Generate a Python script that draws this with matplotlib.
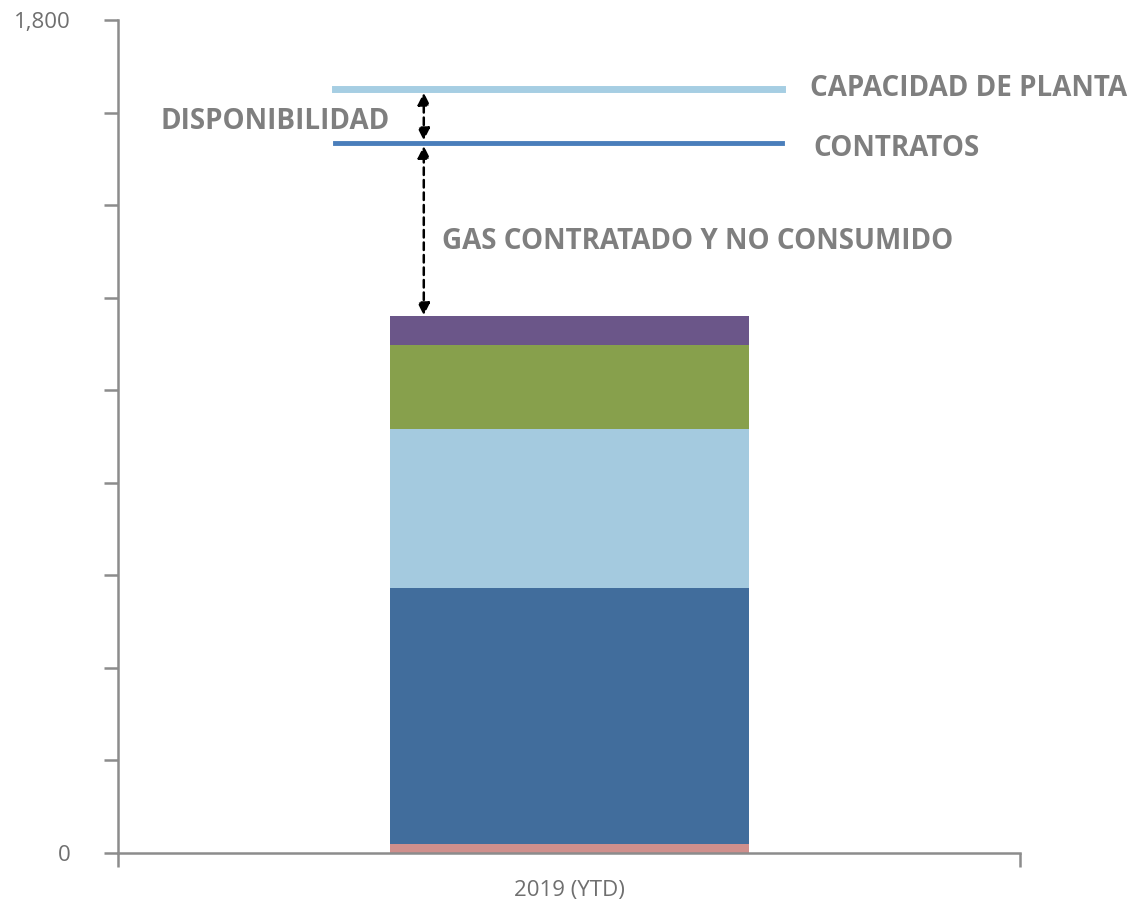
import matplotlib
matplotlib.use('Agg')
import matplotlib.pyplot as plt
import matplotlib.transforms as mtransforms

# ==========================================
# DATA
# ==========================================
CATEGORY = '2019 (YTD)'
SEGMENTS = [20, 553, 343, 181, 63]   # bottom -> top
SEG_COLORS = ['#cf8f8c', '#416d9c', '#a4cadf', '#87a04c', '#6b5689']
CAPACIDAD = 1651
CONTRATOS = 1534
Y_MAX = 1800
Y_STEP = 200
TEXT_GRAY = '#7f7f7f'
AXIS_GRAY = '#8c8c8c'
# ==========================================

plt.rcParams['font.family'] = ['Open Sans', 'DejaVu Sans']

fig = plt.figure(figsize=(11.29, 9.02), dpi=100)
ax = fig.add_axes([0.1045, 0.0543, 0.799, 0.9235])

# stacked bar
bottom = 0
for val, col in zip(SEGMENTS, SEG_COLORS):
    ax.bar(0, val, bottom=bottom, width=0.398, color=col, zorder=2)
    bottom += val
total = bottom

# reference lines
ax.axhline(CAPACIDAD, xmin=0.2406, xmax=0.736, color='#a6cee3', lw=5, zorder=3)
ax.axhline(CONTRATOS, xmin=0.2406, xmax=0.736, color='#4a7ebb', lw=3.5, zorder=3)

ax.set_xlim(-0.5, 0.5)
ax.set_ylim(0, Y_MAX)

# arrows
arrow_x = -0.161
arrow_kw = dict(arrowstyle='<|-|>', color='black', lw=1.8, ls=(0, (3, 2)),
                mutation_scale=18, shrinkA=0, shrinkB=0)
ax.annotate('', xy=(arrow_x, CAPACIDAD - 8), xytext=(arrow_x, CONTRATOS + 6),
            arrowprops=arrow_kw, zorder=4)
ax.annotate('', xy=(arrow_x, CONTRATOS - 6), xytext=(arrow_x, total + 2),
            arrowprops=arrow_kw, zorder=4)

# labels
trans = mtransforms.blended_transform_factory(ax.transAxes, ax.transData)
txt_kw = dict(color=TEXT_GRAY, fontsize=20, fontweight='bold', transform=trans,
              va='center', clip_on=False)
ax.text(0.767, CAPACIDAD, 'CAPACIDAD DE PLANTA', ha='left', **txt_kw)
ax.text(0.771, CONTRATOS - 12, 'CONTRATOS', ha='left', **txt_kw)
ax.text(0.3016, (CAPACIDAD + CONTRATOS) / 2 - 12, 'DISPONIBILIDAD', ha='right', **txt_kw)
ax.text(0.3592, 1322, 'GAS CONTRATADO Y NO CONSUMIDO', ha='left', **txt_kw)

# axes styling
for s in ['top', 'right']:
    ax.spines[s].set_visible(False)
for s in ['left', 'bottom']:
    ax.spines[s].set_color(AXIS_GRAY)
    ax.spines[s].set_linewidth(1.8)

yticks = list(range(0, Y_MAX + 1, Y_STEP))
ax.set_yticks(yticks)
ax.set_yticklabels([f'{t:,}' if t in (0, Y_MAX) else '' for t in yticks])
ax.tick_params(axis='y', length=10, width=1.8, color=AXIS_GRAY, labelcolor='#6f6f6f',
               labelsize=16, pad=24)

ax.set_xticks([-0.5, 0.5])
ax.set_xticklabels(['', ''])
ax.tick_params(axis='x', length=10, width=1.8, color=AXIS_GRAY)
ax.text(0.5, -0.045, CATEGORY, transform=ax.transAxes, ha='center', va='center',
        fontsize=16, color='#6f6f6f')

fig.savefig('out.png', dpi=100)
